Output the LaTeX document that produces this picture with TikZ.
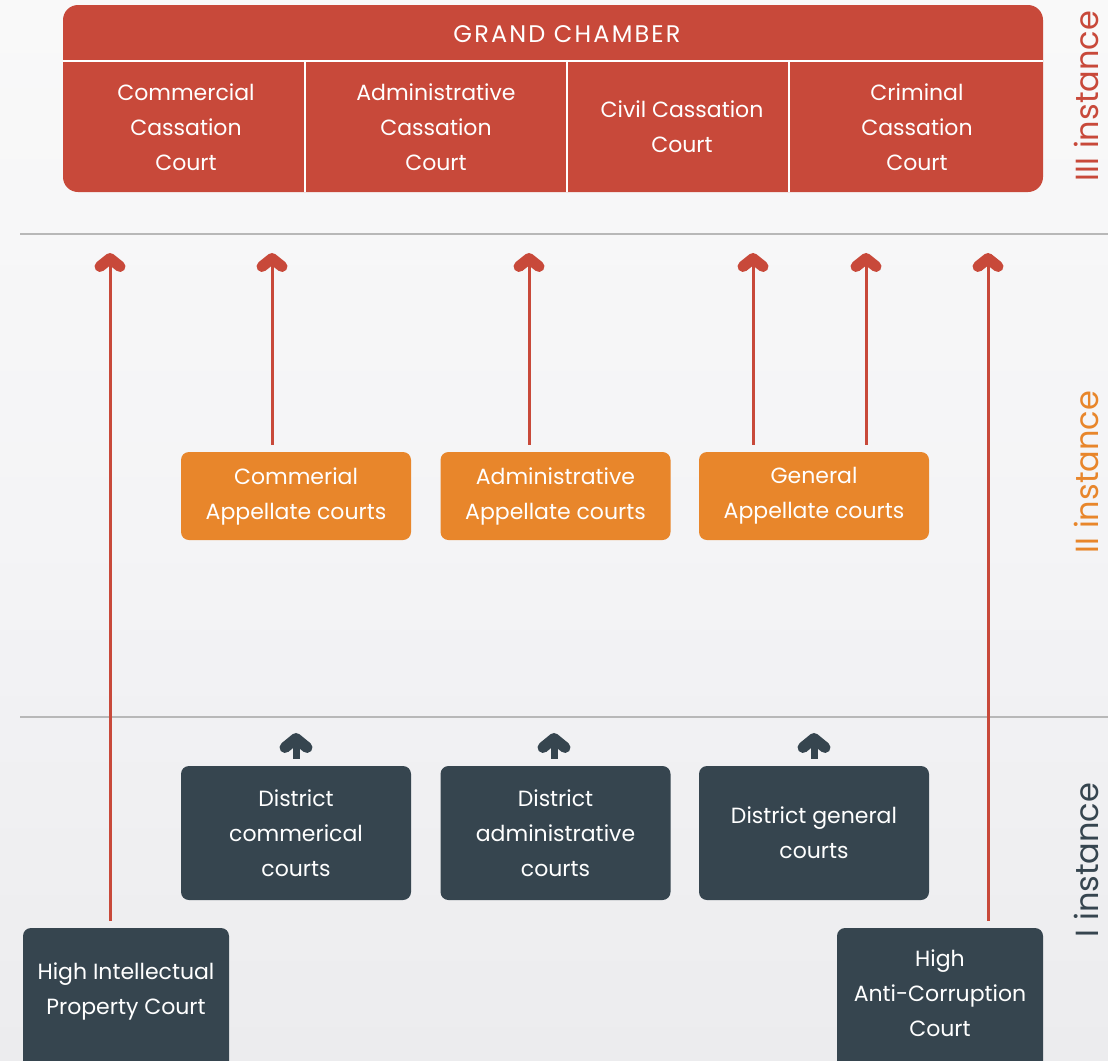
\documentclass[tikz,border=0pt]{standalone}
\usepackage{fontspec}
\setmainfont{Poppins}
\usetikzlibrary{arrows.meta}
\definecolor{courtred}{HTML}{C8493A}
\definecolor{appelorange}{HTML}{E8862B}
\definecolor{slate}{HTML}{36454F}
\definecolor{rulegray}{HTML}{B8B8B8}
\definecolor{bgtop}{HTML}{F9F9F9}
\definecolor{bgmid}{HTML}{F4F4F6}
\definecolor{bgbot}{HTML}{ECECEE}

\begin{document}
\begin{tikzpicture}[x=1pt,y=-1pt,
  boxtext/.style={text=white, align=center, inner sep=0pt, font=\fontsize{22}{35}\selectfont},
  chamber/.style={fill=courtred, rounded corners=15pt, minimum width=980pt, minimum height=187pt, inner sep=0pt},
  appbox/.style={boxtext, fill=appelorange, rounded corners=8pt, minimum width=230pt, minimum height=88pt},
  distbox/.style={boxtext, fill=slate, rounded corners=8pt, minimum width=230pt, minimum height=134pt},
  highbox/.style={fill=slate, rounded corners=8pt, minimum width=206pt, minimum height=150pt, inner sep=0pt},
  divider/.style={draw=white, line width=1.8pt},
  tierrule/.style={draw=rulegray, line width=2.4pt},
  redarrow/.style={draw=courtred, line width=3pt,
    -{Straight Barb[length=8pt, width=20pt, line width=11pt, round]}},
  darkarrow/.style={draw=slate, line width=7pt,
    -{Straight Barb[length=9pt, width=22pt, line width=11pt, round]}},
  tierlabel/.style={rotate=90, font=\fontsize{32}{36}\selectfont, inner sep=0pt}
]
% page and background
\clip (0,0) rectangle (1108,1060);
\fill[top color=bgtop, bottom color=bgbot, middle color=bgmid] (0,0) rectangle (1108,1060);

% tier separators
\draw[tierrule] (20,234) -- (1108,234);
\draw[tierrule] (20,717) -- (1108,717);

% third instance: grand chamber with four cassation courts
\node[chamber] (gc) at (553,98.5) {};
\draw[divider] (63,61) -- (1043,61);
\draw[divider] (305,61) -- (305,192);
\draw[divider] (567,61) -- (567,192);
\draw[divider] (789,61) -- (789,192);
\node[boxtext, font=\fontsize{24}{30}\selectfont\addfontfeature{LetterSpace=9}] (gctitle) at (567,34) {GRAND CHAMBER};
\node[boxtext] (ccc) at (186,127) {Commercial\\Cassation\\Court};
\node[boxtext] (acc) at (436,127) {Administrative\\Cassation\\Court};
\node[boxtext] (civ) at (682,127) {Civil Cassation\\Court};
\node[boxtext] (crc) at (917,127) {Criminal\\Cassation\\Court};

% second instance
\node[appbox] (cap) at (296,496) {Commerial\\Appellate courts};
\node[appbox] (aap) at (555.5,496) {Administrative\\Appellate courts};
\node[appbox] (gap) at (814,496) {General\\Appellate courts};

% first instance
\node[distbox] (dcc) at (296,833) {District\\commerical\\courts};
\node[distbox] (dac) at (555.5,833) {District\\administrative\\courts};
\node[distbox] (dgc) at (814,833) {District general\\courts};
\node[highbox] (hip) at (126,1003) {};
\node[boxtext] (hipname) at (126,991) {High Intellectual\\Property Court};
\node[highbox] (hac) at (940,1003) {};
\node[boxtext] (hacname) at (940,993) {High\\Anti-Corruption\\Court};

% arrow ends below the chamber
\coordinate (t1) at (110,253);
\coordinate (t2) at (272,253);
\coordinate (t3) at (529,253);
\coordinate (t4) at (753,253);
\coordinate (t5) at (866,253);
\coordinate (t6) at (988,253);

\draw[redarrow, shorten <=7pt] (hip.north -| t1) -- (t1);
\draw[redarrow, shorten <=7pt] (cap.north -| t2) -- (t2);
\draw[redarrow, shorten <=7pt] (aap.north -| t3) -- (t3);
\draw[redarrow, shorten <=7pt] (gap.north -| t4) -- (t4);
\draw[redarrow, shorten <=7pt] (gap.north -| t5) -- (t5);
\draw[redarrow, shorten <=7pt] (hac.north -| t6) -- (t6);

% short arrows above the district courts
\coordinate (d1) at (296,733);
\coordinate (d2) at (554,733);
\coordinate (d3) at (814,733);
\draw[darkarrow, shorten <=7pt] (dcc.north) -- (d1);
\draw[darkarrow, shorten <=7pt] (dac.north -| d2) -- (d2);
\draw[darkarrow, shorten <=7pt] (dgc.north) -- (d3);

% tier labels
\node[tierlabel, text=courtred] (l3) at (1086,96) {III instance};
\node[tierlabel, text=appelorange] (l2) at (1086,472) {II instance};
\node[tierlabel, text=slate] (l1) at (1086,860) {I instance};
\end{tikzpicture}
\end{document}
